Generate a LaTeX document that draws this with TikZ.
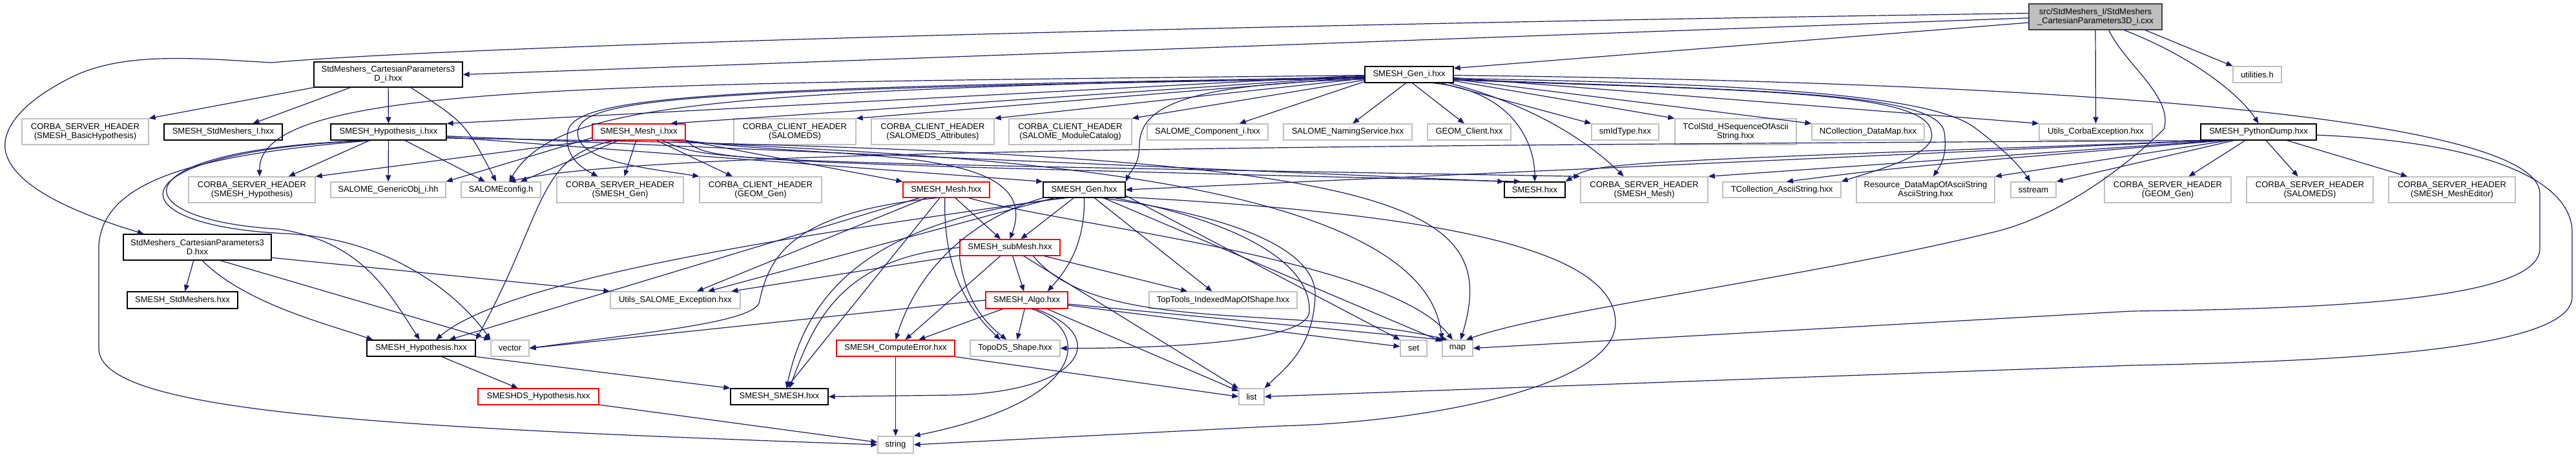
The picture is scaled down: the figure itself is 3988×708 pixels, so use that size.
\documentclass[tikz,border=0pt]{standalone}
\usepackage{fontspec}
\newfontfamily\doxfont{Liberation Sans}
\usetikzlibrary{arrows.meta}
\definecolor{edgeblue}{HTML}{191970}
\definecolor{sysgrey}{HTML}{BFBFBF}
\definecolor{rootfill}{HTML}{BFBFBF}
\definecolor{rootline}{HTML}{404040}
\definecolor{cutred}{HTML}{FF0000}
\tikzset{
  file/.style={rectangle, inner sep=0pt, minimum height=25pt, align=center, line width=1.3pt, fill=white, font=\doxfont\fontsize{13pt}{14pt}\selectfont},
  docfile/.style={file, draw=black},
  sysfile/.style={file, draw=sysgrey},
  cutfile/.style={file, draw=cutred},
  twoline/.style={minimum height=40pt},
  dep/.style={draw=edgeblue, line width=1.2pt, -{Triangle[length=10pt,width=8pt]}}
}
\begin{document}
\begin{tikzpicture}[x=1pt,y=-1pt]
\path[use as bounding box, fill=white] (0,0) rectangle (3988,708);
\node[sysfile, twoline, fill=rootfill, draw=rootline, minimum width=206pt] (root) at (3244,26) {src/StdMeshers\_I/StdMeshers\\\_CartesianParameters3D\_i.cxx};
\node[docfile, twoline, minimum width=230pt, minimum height=39pt] (cp3di) at (601,115.5) {StdMeshers\_CartesianParameters3\\D\_i.hxx};
\node[docfile, minimum width=137pt] (geni) at (2181.5,115.5) {SMESH\_Gen\_i.hxx};
\node[sysfile, minimum width=75pt] (utilities) at (3494.5,115.5) {utilities.h};
\node[sysfile, twoline, minimum width=196pt] (cshbasic) at (132,204) {CORBA\_SERVER\_HEADER\\(SMESH\_BasicHypothesis)};
\node[docfile, minimum width=183pt] (stdmi) at (345.5,204.5) {SMESH\_StdMeshers\_I.hxx};
\node[docfile, minimum width=179pt] (hypi) at (601.5,204.5) {SMESH\_Hypothesis\_i.hxx};
\node[cutfile, minimum width=144pt] (meshi) at (989,204.5) {SMESH\_Mesh\_i.hxx};
\node[sysfile, twoline, minimum width=189pt] (cchsalomeds) at (1230.5,204) {CORBA\_CLIENT\_HEADER\\(SALOMEDS)};
\node[sysfile, twoline, minimum width=190pt] (cchattr) at (1444,204) {CORBA\_CLIENT\_HEADER\\(SALOMEDS\_Attributes)};
\node[sysfile, twoline, minimum width=190pt] (cchcatalog) at (1657,204) {CORBA\_CLIENT\_HEADER\\(SALOME\_ModuleCatalog)};
\node[sysfile, minimum width=187pt] (compi) at (1869.5,204.5) {SALOME\_Component\_i.hxx};
\node[sysfile, minimum width=199pt] (naming) at (2086.5,204.5) {SALOME\_NamingService.hxx};
\node[sysfile, minimum width=129pt] (geomclient) at (2274.5,204.5) {GEOM\_Client.hxx};
\node[sysfile, minimum width=104pt] (smidtype) at (2516,204.5) {smIdType.hxx};
\node[sysfile, twoline, minimum width=188pt] (tcolstd) at (2687,204) {TColStd\_HSequenceOfAscii\\String.hxx};
\node[sysfile, minimum width=174pt] (ncoll) at (2892,204.5) {NCollection\_DataMap.hxx};
\node[sysfile, minimum width=175pt] (uce) at (3244.5,204.5) {Utils\_CorbaException.hxx};
\node[docfile, minimum width=179pt] (pyd) at (3496.5,204.5) {SMESH\_PythonDump.hxx};
\node[sysfile, twoline, minimum width=196pt] (cshhyp) at (390,294) {CORBA\_SERVER\_HEADER\\(SMESH\_Hypothesis)};
\node[sysfile, minimum width=178pt, minimum height=24pt] (genobj) at (601,294) {SALOME\_GenericObj\_i.hh};
\node[sysfile, minimum width=123pt, minimum height=24pt] (salcfg) at (775.5,294) {SALOMEconfig.h};
\node[sysfile, twoline, minimum width=196pt] (cshgen) at (960,294) {CORBA\_SERVER\_HEADER\\(SMESH\_Gen)};
\node[sysfile, twoline, minimum width=189pt] (cchgeom) at (1177.5,294) {CORBA\_CLIENT\_HEADER\\(GEOM\_Gen)};
\node[cutfile, minimum width=134pt, minimum height=24pt] (mesh) at (1465,294) {SMESH\_Mesh.hxx};
\node[docfile, minimum width=127pt, minimum height=24pt] (gen) at (1678.5,294) {SMESH\_Gen.hxx};
\node[docfile, minimum width=94pt, minimum height=24pt] (smesh) at (2376,294) {SMESH.hxx};
\node[sysfile, twoline, minimum width=197pt] (cshmesh) at (2545.5,294) {CORBA\_SERVER\_HEADER\\(SMESH\_Mesh)};
\node[sysfile, minimum width=183pt, minimum height=24pt] (tcoll) at (2758.5,294) {TCollection\_AsciiString.hxx};
\node[sysfile, twoline, minimum width=214pt] (resource) at (2981,294) {Resource\_DataMapOfAsciiString\\AsciiString.hxx};
\node[sysfile, minimum width=70pt, minimum height=24pt] (sstream) at (3148,294) {sstream};
\node[sysfile, twoline, minimum width=196pt] (cshgeom) at (3356,294) {CORBA\_SERVER\_HEADER\\(GEOM\_Gen)};
\node[sysfile, twoline, minimum width=196pt] (cshsalomeds) at (3576,294) {CORBA\_SERVER\_HEADER\\(SALOMEDS)};
\node[sysfile, twoline, minimum width=196pt] (cshmeshed) at (3796,294) {CORBA\_SERVER\_HEADER\\(SMESH\_MeshEditor)};
\node[docfile, twoline, minimum width=229pt] (cp3d) at (305.5,383) {StdMeshers\_CartesianParameters3\\D.hxx};
\node[cutfile, minimum width=155pt] (submesh) at (1563.5,383.5) {SMESH\_subMesh.hxx};
\node[docfile, minimum width=171pt, minimum height=26pt] (stdm) at (282.5,465) {SMESH\_StdMeshers.hxx};
\node[sysfile, minimum width=201pt, minimum height=26pt] (usalexc) at (1045.5,465) {Utils\_SALOME\_Exception.hxx};
\node[cutfile, minimum width=127pt, minimum height=26pt] (algo) at (1589.5,465) {SMESH\_Algo.hxx};
\node[sysfile, minimum width=229pt, minimum height=26pt] (toptools) at (1893.5,465) {TopTools\_IndexedMapOfShape.hxx};
\node[docfile, minimum width=168pt] (hyp) at (652,539.5) {SMESH\_Hypothesis.hxx};
\node[sysfile, minimum width=59pt] (vector) at (789.5,539.5) {vector};
\node[cutfile, minimum width=183pt] (cerr) at (1386.5,539.5) {SMESH\_ComputeError.hxx};
\node[sysfile, minimum width=139pt] (topods) at (1571.5,539.5) {TopoDS\_Shape.hxx};
\node[sysfile, minimum width=41pt] (set) at (2188.5,539.5) {set};
\node[sysfile, minimum width=47pt] (map) at (2256.5,539.5) {map};
\node[cutfile, minimum width=187pt] (smeshds) at (833.5,614.5) {SMESHDS\_Hypothesis.hxx};
\node[docfile, minimum width=151pt] (smeshsmesh) at (1206.5,614.5) {SMESH\_SMESH.hxx};
\node[sysfile, minimum width=39pt] (list) at (1937.5,614.5) {list};
\node[sysfile, minimum width=55pt, minimum height=26pt] (string) at (1386.5,689) {string};
\draw[dep] (root.181) -- (cp3di.east);
\draw[dep] (root.177) .. controls (1800,40) and (700,72) .. (420,97) .. controls (300,90) and (190,80) .. (110,120) .. controls (20,165) and (0,210) .. (10,240) .. controls (30,300) and (150,340) .. (cp3d.166);
\draw[dep] (root.185) -- (geni.8);
\draw[dep] (root.south) -- (uce.north);
\draw[dep] (root.-15) -- (utilities.north west);
\draw[dep] (root.-25) .. controls (3400,90) and (3470,150) .. (pyd.north);
\draw[dep] (root.-45) .. controls (3290,100) and (3365,150) .. (3350,200) .. controls (3300,250) and (3200,330) .. (3093,358) .. controls (2800,430) and (2400,480) .. (map.45);
\draw[dep] (cp3di.south west) -- (cshbasic.north east);
\draw[dep] (cp3di.199) -- (stdmi.16);
\draw[dep] (cp3di) -- (hypi);
\draw[dep] (cp3di.-30) .. controls (720,190) .. (salcfg.120);
\draw[dep] (geni.181) -- (hypi.north east);
\draw[dep] (geni.182) -- (meshi.15);
\draw[dep] (geni.183) -- (cchsalomeds.north east);
\draw[dep] (geni.185) -- (cchattr.north east);
\draw[dep] (geni.187) -- (cchcatalog.north east);
\draw[dep] (geni.189) -- (compi.15);
\draw[dep] (geni.250) -- (naming.60);
\draw[dep] (geni.290) -- (geomclient.120);
\draw[dep] (geni.-15) -- (smidtype.north west);
\draw[dep] (geni.-8) -- (tcolstd.north west);
\draw[dep] (geni.-6) -- (ncoll.north west);
\draw[dep] (geni.-4) -- (uce.north west);
\draw[dep] (geni.-7) .. controls (2700,140) and (2985,140) .. (2990,205) .. controls (3000,240) and (2900,265) .. (tcoll.north east);
\draw[dep] (geni.-6) .. controls (2700,140) and (3000,140) .. (3010,205) .. controls (3015,240) and (3005,255) .. (resource.60);
\draw[dep] (geni.-5) .. controls (2750,130) and (3000,150) .. (3060,200) .. controls (3100,230) and (3125,255) .. (sstream.110);
\draw[dep] (geni.-20) .. controls (2340,140) and (2376,220) .. (smesh.north);
\draw[dep] (geni.-12) .. controls (2400,170) and (2480,240) .. (cshmesh.147);
\draw[dep] (geni.181) .. controls (900,130) and (400,130) .. (cshhyp.60);
\draw[dep] (geni.183) .. controls (1100,140) and (860,160) .. (salcfg.45);
\draw[dep] (geni.184) .. controls (1100,135) and (900,150) .. (880,200) .. controls (870,240) and (900,260) .. (cshgen.149);
\draw[dep] (geni.185) .. controls (1100,138) and (910,150) .. (895,200) .. controls (885,250) and (1000,260) .. (cchgeom.north west);
\draw[dep] (geni.186) .. controls (1850,130) and (1764,160) .. (1764,225) .. controls (1764,255) and (1750,265) .. (gen.north east);
\draw[dep] (geni.-1) .. controls (3400,130) and (3932,200) .. (3932,300) -- (3932,385) .. controls (3932,460) and (3650,478) .. (3300,482) -- (map.east);
\draw[dep] (pyd.-3) .. controls (3850,220) and (3982,280) .. (3982,360) -- (3982,460) .. controls (3982,545) and (3600,560) .. (3300,566) -- (list.east);
\draw[dep] (pyd) -- (cshgeom);
\draw[dep] (pyd) -- (cshsalomeds);
\draw[dep] (pyd) -- (cshmeshed);
\draw[dep] (pyd.199) -- (sstream.north east);
\draw[dep] (pyd.196) -- (resource.north east);
\draw[dep] (pyd.194) .. controls (2950,258) .. (tcoll.60);
\draw[dep] (pyd.192) -- (cshmesh.north east);
\draw[dep] (pyd.191) .. controls (2470,252) .. (smesh.north east);
\draw[dep] (pyd.190) -- (gen.east);
\draw[dep] (pyd.189) .. controls (2000,226) and (1000,232) .. (salcfg.45);
\draw[dep] (hypi.204) -- (cshhyp.20);
\draw[dep] (hypi) -- (genobj);
\draw[dep] (hypi) -- (salcfg);
\draw[dep] (hypi.-4) -- (smesh.north west);
\draw[dep] (hypi.-5) -- (gen.north west);
\draw[dep] (hypi.-6) .. controls (2150,235) and (2330,300) .. (map.70);
\draw[dep] (hypi.206) .. controls (300,240) and (160,280) .. (153,380) -- (153,540) .. controls (153,640) and (600,662) .. (string.west);
\draw[dep] (hypi.205) .. controls (180,230) and (180,340) .. (432,355) .. controls (560,375) and (600,450) .. (hyp.100);
\draw[dep] (hypi.203) .. controls (170,235) and (170,350) .. (445,362) .. controls (620,372) and (720,470) .. (vector.north west);
\draw[dep] (meshi.south west) -- (cshhyp.north east);
\draw[dep] (meshi.187) -- (genobj.north east);
\draw[dep] (meshi) -- (salcfg);
\draw[dep] (meshi) -- (cshgen);
\draw[dep] (meshi) -- (cchgeom);
\draw[dep] (meshi.south east) .. controls (1100,250) .. (smesh.150);
\draw[dep] (meshi.-20) .. controls (1100,250) .. (cshmesh.north west);
\draw[dep] (meshi.south east) -- (mesh.north west);
\draw[dep] (meshi.south east) .. controls (1300,250) and (1620,220) .. (submesh.north);
\draw[dep] (meshi.200) .. controls (830,240) and (845,330) .. (hyp.north east);
\draw[dep] (meshi.-15) .. controls (1300,240) and (2200,240) .. (map.north west);
\draw[dep] (mesh) -- (submesh);
\draw[dep] (mesh.-100) .. controls (1460,420) and (1500,480) .. (topods.150);
\draw[dep] (mesh) -- (hyp);
\draw[dep] (mesh) -- (smeshsmesh);
\draw[dep] (mesh) -- (usalexc);
\draw[dep] (mesh.220) .. controls (1220,330) and (1190,400) .. (1175,470) .. controls (1160,500) and (1000,515) .. (vector.east);
\draw[dep] (mesh.-20) .. controls (1650,350) and (2150,400) .. (map.120);
\draw[dep] (gen) -- (submesh);
\draw[dep] (gen.south) .. controls (1680,380) and (1650,420) .. (algo.23);
\draw[dep] (gen) -- (toptools);
\draw[dep] (gen.200) .. controls (1350,350) and (800,420) .. (hyp.30);
\draw[dep] (gen.205) .. controls (1350,340) and (1250,450) .. (smeshsmesh.50);
\draw[dep] (gen) -- (usalexc);
\draw[dep] (gen.south west) .. controls (1500,340) and (1420,420) .. (cerr.north);
\draw[dep] (gen.-15) .. controls (1950,350) and (2030,420) .. (2027,483) .. controls (2025,530) and (1800,540) .. (topods.east);
\draw[dep] (gen) -- (map);
\draw[dep] (gen.-8) -- (set.north west);
\draw[dep] (gen.-25) .. controls (1950,340) and (2040,400) .. (2036,460) .. controls (2032,540) and (1990,570) .. (list.north east);
\draw[dep] (gen.-10) .. controls (2200,330) and (2501,380) .. (2501,500) .. controls (2501,600) and (2200,655) .. (1980,660) -- (string.east);
\draw[dep] (submesh) -- (algo);
\draw[dep] (submesh) -- (cerr);
\draw[dep] (submesh.south west) .. controls (1490,430) and (1500,480) .. (topods.135);
\draw[dep] (submesh) -- (toptools);
\draw[dep] (submesh) -- (list);
\draw[dep] (submesh.west) .. controls (1300,400) and (1260,500) .. (smeshsmesh.40);
\draw[dep] (submesh) -- (usalexc);
\draw[dep] (submesh.-20) .. controls (1700,520) and (2000,470) .. (map.140);
\draw[dep] (algo) -- (cerr);
\draw[dep] (algo) -- (topods);
\draw[dep] (algo) -- (list);
\draw[dep] (algo.-60) .. controls (1690,510) and (1690,620) .. (string.north east);
\draw[dep] (algo.-45) .. controls (1720,520) and (1680,605) .. (1480,612) -- (smeshsmesh.east);
\draw[dep] (algo) -- (map.150);
\draw[dep] (algo) -- (set);
\draw[dep] (algo.west) -- (vector.east);
\draw[dep] (cerr) -- (string);
\draw[dep] (cerr.south east) -- (list.west);
\draw[dep] (hyp) -- (smeshds);
\draw[dep] (hyp.south east) -- (smeshsmesh.north west);
\draw[dep] (smeshds) -- (string);
\draw[dep] (cp3d) -- (stdm);
\draw[dep] (cp3d.-70) .. controls (380,470) and (500,500) .. (hyp.170);
\draw[dep] (cp3d.-30) -- (vector.north west);
\draw[dep] (cp3d.-8) -- (usalexc.north west);
\end{tikzpicture}
\end{document}
